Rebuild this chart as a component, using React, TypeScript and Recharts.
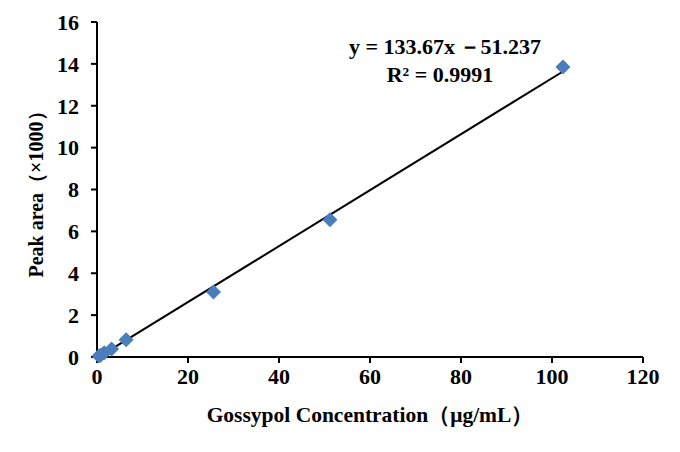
import { ScatterChart, Scatter, XAxis, YAxis, ZAxis } from 'recharts';

// Gossypol standard curve (peak area in thousands)
const concentrations = [0.4, 0.8, 1.6, 3.2, 6.4, 25.6, 51.2, 102.4];
const peakAreas = [0.05, 0.08, 0.2, 0.38, 0.82, 3.1, 6.55, 13.85];

// linear trend line end points (y = 133.67x - 51.237, in thousands)
const trendX = [0.4, 102.4];
const trendY = [0.002, 13.636];

const xTicks = [0, 20, 40, 60, 80, 100, 120];
const yTicks = [0, 2, 4, 6, 8, 10, 12, 14, 16];

const points = concentrations.map((c, i) => ({ x: c, y: peakAreas[i] }));
const trend = trendX.map((t, i) => ({ x: t, y: trendY[i] }));

const font = '"Liberation Serif", "Times New Roman", serif';
const blue = '#4a7ebb';

function Diamond(props: any) {
  const { cx, cy } = props;
  const r = 7.5;
  return <polygon points={`${cx},${cy - r} ${cx + r},${cy} ${cx},${cy + r} ${cx - r},${cy}`} fill={blue} />;
}

function Nothing() {
  return <g />;
}

function Tick(props: any) {
  const { x, y, payload, textAnchor } = props;
  return (
    <text x={x} y={y} dy="0.355em" textAnchor={textAnchor} fill="#000" fontSize={22} fontWeight={700} fontFamily={font}>
      {payload.value}
    </text>
  );
}

export default function App() {
  const title = { fill: '#000', fontSize: 21.5, fontWeight: 700, fontFamily: font };

  return (
    <div style={{ position: 'absolute', left: 0, top: 0, background: '#fff', fontFamily: font }}>
      <ScatterChart width={680} height={452} margin={{ top: 22, right: 37, bottom: 0, left: 0 }}>
        <XAxis
          type="number"
          dataKey="x"
          domain={[0, 120]}
          ticks={xTicks}
          height={95}
          tickSize={6}
          tickMargin={13}
          stroke="#000"
          strokeWidth={2}
          tick={<Tick />}
          label={{ value: 'Gossypol Concentration（μg/mL）', position: 'insideBottom', offset: 30, fill: '#000', style: title }}
        />
        <YAxis
          type="number"
          dataKey="y"
          domain={[0, 16]}
          ticks={yTicks}
          width={97}
          tickSize={6}
          tickMargin={12}
          stroke="#000"
          strokeWidth={2}
          tick={<Tick />}
          label={{ value: 'Peak area（×1000）', angle: -90, position: 'insideLeft', offset: 36, fill: '#000', style: { ...title, fontSize: 20, textAnchor: 'middle' } }}
        />
        <ZAxis range={[60, 60]} />
        <Scatter data={trend} line={{ stroke: '#000', strokeWidth: 2 }} shape={<Nothing />} isAnimationActive={false} />
        <Scatter data={points} shape={<Diamond />} isAnimationActive={false} />
        <text x={445} y={54} textAnchor="middle" fill="#000" fontSize={22} fontWeight={700} fontFamily={font}>y = 133.67x{'\u2006'}－51.237</text>
        <text x={440} y={82} textAnchor="middle" fill="#000" fontSize={22} fontWeight={700} fontFamily={font}>R² = 0.9991</text>
      </ScatterChart>
    </div>
  );
}
